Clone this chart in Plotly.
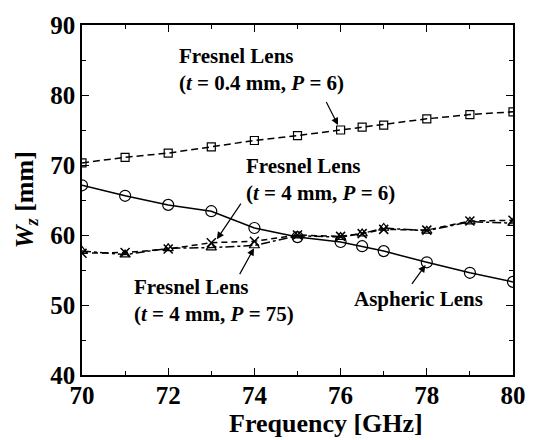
import plotly.graph_objects as go

freq = [70, 71, 72, 73, 74, 75, 76, 76.5, 77, 78, 79, 80]
fresnel_04_p6 = [70.3, 71.1, 71.7, 72.6, 73.5, 74.2, 75.0, 75.4, 75.7, 76.6, 77.2, 77.6]
aspheric = [67.1, 65.6, 64.3, 63.4, 61.0, 59.7, 59.0, 58.4, 57.7, 56.1, 54.6, 53.3]
fresnel_4_p75 = [57.7, 57.2, 58.1, 58.2, 58.5, 59.9, 59.7, 60.2, 61.0, 60.6, 61.9, 61.7]
fresnel_4_p6 = [57.4, 57.5, 58.0, 58.9, 59.1, 60.0, 59.8, 60.2, 60.8, 60.7, 62.0, 62.1]

x_ticks = [70, 72, 74, 76, 78, 80]
y_ticks = [40, 50, 60, 70, 80, 90]

FONT = "Liberation Serif"
fig = go.Figure()

fig.add_trace(go.Scatter(x=freq, y=fresnel_04_p6, mode="lines+markers",
    line=dict(color="black", width=1.5, dash="7px,4px"),
    marker=dict(symbol="square-open", size=8, color="black", line=dict(width=1.2))))
fig.add_trace(go.Scatter(x=freq, y=aspheric, mode="lines+markers",
    line=dict(color="black", width=1.5),
    marker=dict(symbol="circle-open", size=11, color="black", line=dict(width=1.2))))
fig.add_trace(go.Scatter(x=freq, y=fresnel_4_p75, mode="lines+markers",
    line=dict(color="black", width=1.5, dash="9px,3px,3px,3px"),
    marker=dict(symbol="triangle-up-open", size=9, color="black", line=dict(width=1.2))))
fig.add_trace(go.Scatter(x=freq, y=fresnel_4_p6, mode="lines+markers",
    line=dict(color="black", width=1.5, dash="6px,4px"),
    marker=dict(symbol="x-thin-open", size=9, color="black", line=dict(width=1.5))))

axis_common = dict(showline=True, linecolor="black", linewidth=1.5, mirror="ticks",
                   ticks="inside", ticklen=7, tickwidth=1.2, tickcolor="black",
                   showgrid=False, zeroline=False,
                   tickfont=dict(family=FONT, size=25, color="black", weight="bold"))

fig.update_xaxes(range=[70, 80], tickvals=x_ticks, ticklabelstandoff=-3,
                 minor=dict(dtick=1, ticks="inside", ticklen=4, tickcolor="black", tickwidth=1.2),
                 **axis_common)
fig.update_yaxes(range=[40, 90], tickvals=y_ticks,
                 minor=dict(dtick=5, ticks="inside", ticklen=4, tickcolor="black", tickwidth=1.2),
                 **axis_common)

ann_font = dict(family=FONT, size=21, color="black")
texts = [
    ("<b>Fresnel Lens<br>(<i>t</i> = 0.4 mm, <i>P</i> = 6)</b>", 72.2, 83.6),
    ("<b>Fresnel Lens<br>(<i>t</i> = 4 mm, <i>P</i> = 6)</b>", 73.77, 67.9),
    ("<b>Fresnel Lens<br>(<i>t</i> = 4 mm, <i>P</i> = 75)</b>", 71.15, 50.7),
]
for t, x, y in texts:
    fig.add_annotation(text=t, x=x, y=y, xref="x", yref="y", showarrow=False,
                       xanchor="left", yanchor="middle", align="left", font=ann_font)
fig.add_annotation(text="<b>Aspheric Lens</b>", x=77.8, y=50.8, xref="x", yref="y",
                   showarrow=False, xanchor="center", yanchor="middle", font=ann_font)

arrows = [
    (75.94, 75.7, 75.65, 79.2),
    (73.13, 59.4, 73.71, 64.7),
    (73.99, 58.1, 73.64, 54.2),
    (77.97, 55.7, 77.63, 52.8),
]
for hx, hy, tx, ty in arrows:
    fig.add_annotation(text="", x=hx, y=hy, ax=tx, ay=ty, xref="x", yref="y",
                       axref="x", ayref="y", showarrow=True, arrowhead=2,
                       arrowsize=1.2, arrowwidth=1.2, arrowcolor="black")

fig.add_annotation(text="<b>Frequency [GHz]</b>", x=0.565, y=-0.138, xref="paper", yref="paper",
                   showarrow=False, xanchor="center", yanchor="middle",
                   font=dict(family=FONT, size=26, color="black"))
fig.add_annotation(text="<b><i>W</i><sub><i>z</i></sub> [mm]</b>", x=-0.131, y=0.5,
                   xref="paper", yref="paper", showarrow=False, textangle=-90,
                   xanchor="center", yanchor="middle",
                   font=dict(family=FONT, size=26, color="black"))

fig.update_layout(width=538, height=440, showlegend=False,
                  margin=dict(l=82, r=22, t=15, b=65),
                  paper_bgcolor="white", plot_bgcolor="white")

fig.write_html("out.html")
